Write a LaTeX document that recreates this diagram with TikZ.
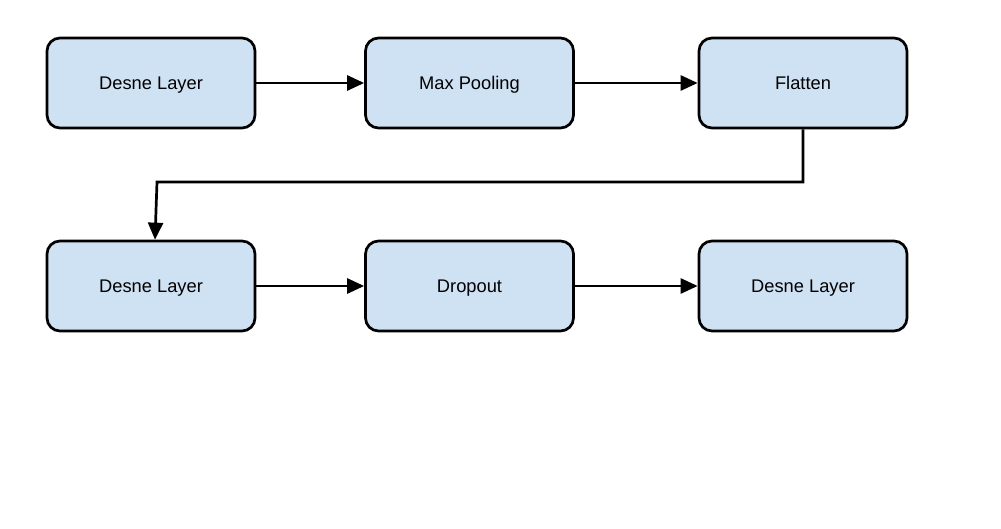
\documentclass[tikz,border=0pt]{standalone}
\usepackage{fontspec}
\setmainfont{Liberation Sans}
\usetikzlibrary{arrows.meta}
\definecolor{boxfill}{HTML}{CFE2F3}
\begin{document}
\begin{tikzpicture}[x=1pt,y=-1pt,
  layerbox/.style={draw=black, line width=2.7pt, fill=boxfill, rounded corners=13pt,
    minimum width=208pt, minimum height=90pt, inner sep=0pt,
    text height=15pt, text depth=1pt, font=\fontsize{18.3}{20}\selectfont},
  conn/.style={line width=2.7pt, -{Triangle[length=17pt,width=15pt]}}]
\useasboundingbox (0,0) rectangle (1001,529);
\node[layerbox] (a) at (151,83) {Desne Layer};
\node[layerbox] (b) at (469.5,83) {Max Pooling};
\node[layerbox] (c) at (803,83) {Flatten};
\node[layerbox] (d) at (151,286) {Desne Layer};
\node[layerbox] (e) at (469.5,286) {Dropout};
\node[layerbox] (f) at (803,286) {Desne Layer};
\coordinate (k1) at (803,182);
\coordinate (k2) at (157,182);
\draw[conn] (a) -- (b);
\draw[conn] (b) -- (c);
\draw[conn] (d) -- (e);
\draw[conn] (e) -- (f);
\draw[conn] (c.south) -- (k1) -- (k2) -- (d.north -| 155,0);
\end{tikzpicture}
\end{document}
